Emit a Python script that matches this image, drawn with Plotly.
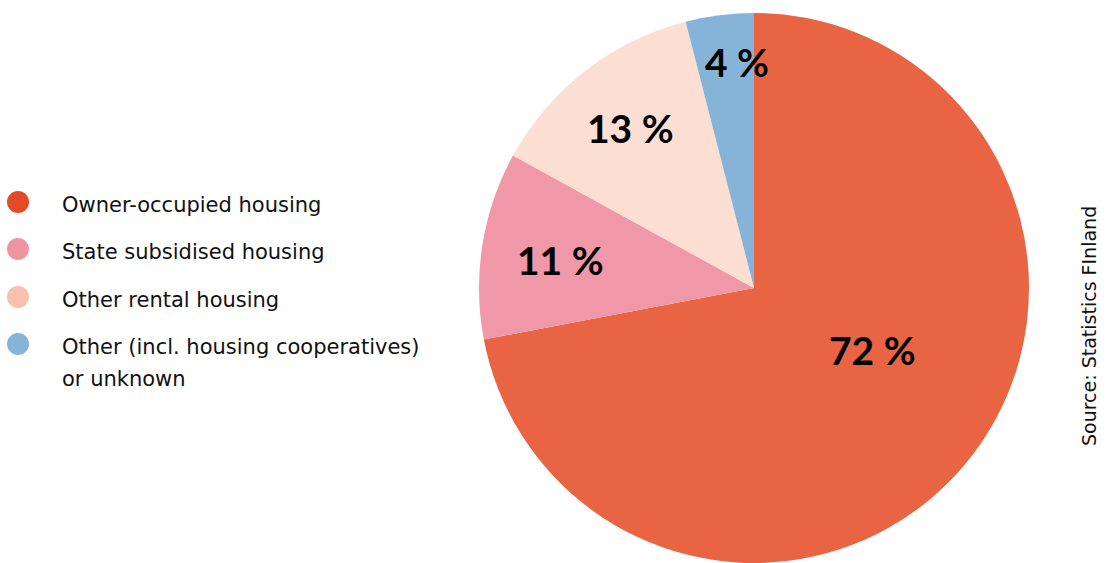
import plotly.graph_objects as go

W, H = 1106, 563

categories = ["Owner-occupied housing", "State subsidised housing",
              "Other rental housing", "Other (incl. housing cooperatives)<br>or unknown"]
values = [72, 11, 13, 4]
value_labels = ["72 %", "11 %", "13 %", "4 %"]
pie_colors = ["#E86443", "#F097A8", "#FDDED3", "#86B4D8"]
legend_colors = ["#E34B28", "#F094A4", "#F8C1AB", "#86B4D8"]

# label positions (pixel coords of label centres)
label_px = [(872, 350), (560, 260), (630, 128), (737, 62)]
legend_y = [202, 249, 297, 344]

fig = go.Figure()
fig.add_trace(go.Pie(
    labels=categories, values=values, sort=False, direction="clockwise",
    rotation=0, marker=dict(colors=pie_colors, line=dict(width=0)),
    textinfo="none", hoverinfo="label+percent", showlegend=False,
    domain=dict(x=[479 / W, 1029 / W], y=[0, 1 - 13 / H]),
))

anns = []
for txt, (px, py) in zip(value_labels, label_px):
    anns.append(dict(x=px / W, y=1 - py / H, xref="paper", yref="paper",
                     text=f"<b>{txt}</b>", showarrow=False,
                     font=dict(family="Lato", size=39, color="#000000"),
                     xanchor="center", yanchor="middle"))

shapes = []
for c, cy in zip(legend_colors, legend_y):
    r = 11
    shapes.append(dict(type="circle", xref="paper", yref="paper",
                       x0=(18 - r) / W, x1=(18 + r) / W,
                       y0=1 - (cy + r) / H, y1=1 - (cy - r) / H,
                       fillcolor=c, line=dict(width=0)))
for cat, cy in zip(categories, legend_y):
    for i, line in enumerate(cat.split("<br>")):
        anns.append(dict(x=60 / W, y=1 - (cy + 3 + 32 * i) / H, xref="paper", yref="paper",
                         text=line, showarrow=False, align="left",
                         font=dict(family="DejaVu Sans", size=21, color="#111111"),
                         xanchor="left", yanchor="middle"))

anns.append(dict(x=1089 / W, y=1 - 326 / H, xref="paper", yref="paper",
                 text="Source: Statistics FInland", showarrow=False, textangle=-90,
                 font=dict(family="DejaVu Sans", size=19, color="#111111"),
                 xanchor="center", yanchor="middle"))

fig.update_layout(width=W, height=H, margin=dict(l=0, r=0, t=0, b=0, pad=0),
                  paper_bgcolor="white", plot_bgcolor="white",
                  annotations=anns, shapes=shapes)
fig.write_html("out.html", config={"displayModeBar": False},
               post_script="document.body.style.margin='0';document.body.style.overflow='hidden';")
